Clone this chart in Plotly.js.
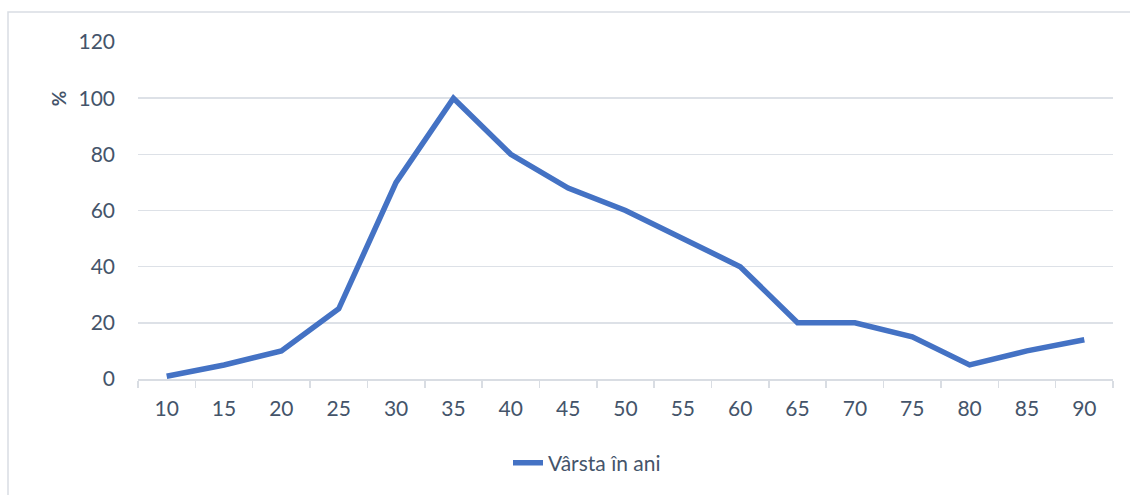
<!DOCTYPE html>
<html>
<head>
<meta charset="utf-8">
<script src="https://cdn.plot.ly/plotly-3.0.1.min.js"></script>
<style>html,body{margin:0;padding:0;background:#fff;}#chart{width:1130px;height:495px;}</style>
</head>
<body>
<div id="chart"></div>
<script>
const ages = ["10","15","20","25","30","35","40","45","50","55","60","65","70","75","80","85","90"];
const values = [1,5,10,25,70,100,80,68,60,50,40,20,20,15,5,10,14];
const seriesName = "Vârsta în ani";
const yTitle = "%";

const textColor = "#44546a";
const fontFam = "Lato, 'Noto Sans', sans-serif";

const trace = {
  x: ages, y: values, type: "scatter", mode: "lines", name: seriesName,
  line: {color: "#4472C4", width: 5.5, shape: "linear"}
};

const layout = {
  width: 1130, height: 495,
  margin: {l: 138, r: 17, t: 42, b: 116},
  paper_bgcolor: "#fff", plot_bgcolor: "#fff",
  font: {family: fontFam, color: textColor, size: 21},
  showlegend: true,
  legend: {orientation: "h", x: (508 - 138) / 975, xanchor: "left", y: -84 / 337, yanchor: "middle",
           font: {size: 21, color: textColor}, bgcolor: "rgba(0,0,0,0)"},
  xaxis: {type: "category", range: [-0.5, ages.length - 0.5], showgrid: false, showline: true,
          linecolor: "#d9dde3", linewidth: 1.5,
          ticks: "outside", tickson: "boundaries", ticklen: 7, tickcolor: "#d9dde3", tickwidth: 1.5,
          tickfont: {size: 21, color: textColor}, ticklabelstandoff: 10, zeroline: false, fixedrange: true},
  yaxis: {range: [0, 120], dtick: 20, tick0: 0, showgrid: true, gridcolor: "#dde1e7", gridwidth: 1.5,
          zeroline: false, showline: false, ticks: "", tickfont: {size: 21, color: textColor},
          ticklabelstandoff: 22, fixedrange: true},
  annotations: [{text: "<b>" + yTitle + "</b>", xref: "paper", yref: "paper", x: -80 / 975, y: 100 / 120,
                 xanchor: "center", yanchor: "middle", textangle: -90, showarrow: false,
                 font: {size: 19, color: textColor}}],
  shapes: [{type: "rect", xref: "paper", yref: "paper", x0: -130 / 975, x1: 1.02, y0: -0.55, y1: 1 + 30 / 337,
            line: {color: "#d9dde3", width: 1.5}, fillcolor: "rgba(0,0,0,0)"}]
};

Plotly.newPlot("chart", [trace], layout, {displayModeBar: false, staticPlot: true});
</script>
</body>
</html>
